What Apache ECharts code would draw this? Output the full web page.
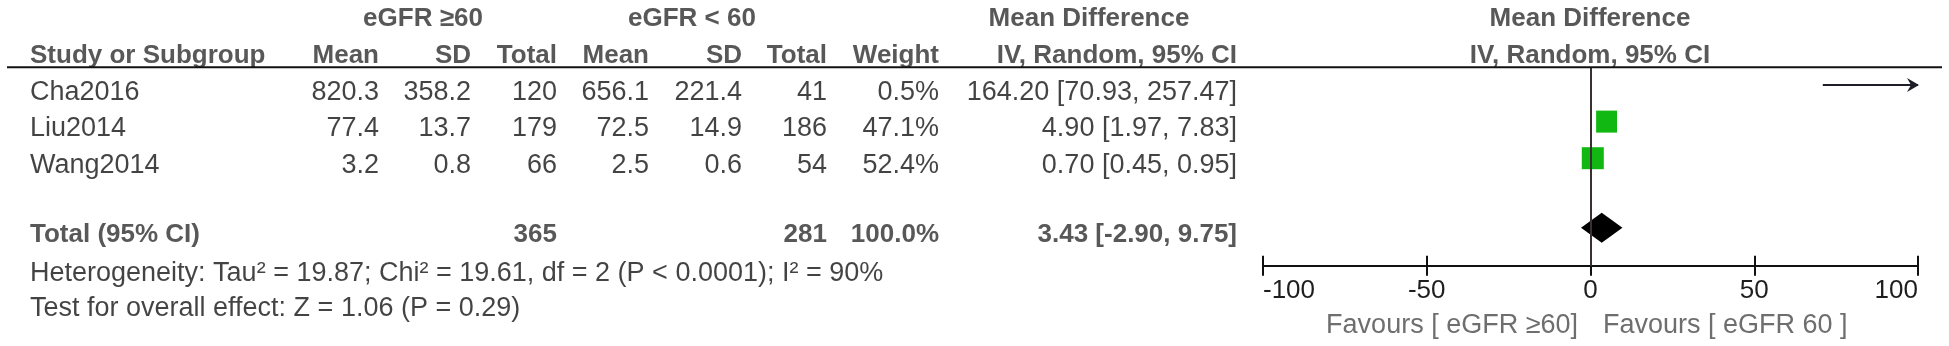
<!DOCTYPE html>
<html>
<head>
<meta charset="utf-8">
<script src="https://cdn.jsdelivr.net/npm/echarts@6/dist/echarts.min.js"></script>
<style>html,body{margin:0;padding:0;background:#fff}#c{width:1949px;height:346px}</style>
</head>
<body>
<div id="c"></div>
<script>
// ---------------- DATA ----------------
const studies = ['Cha2016', 'Liu2014', 'Wang2014'];
const mean1 = [820.3, 77.4, 3.2];
const sd1 = [358.2, 13.7, 0.8];
const n1 = [120, 179, 66];
const mean2 = [656.1, 72.5, 2.5];
const sd2 = [221.4, 14.9, 0.6];
const n2 = [41, 186, 54];
const weight = [0.5, 47.1, 52.4];
const md = [164.20, 4.90, 0.70];
const ciLow = [70.93, 1.97, 0.45];
const ciHigh = [257.47, 7.83, 0.95];
const totalN1 = 365;
const totalN2 = 281;
const totalWeight = 100.0;
const totalMD = 3.43;
const totalLow = -2.90;
const totalHigh = 9.75;
const xTicks = [-100, -50, 0, 50, 100];
const groupHeaders = ['eGFR \u226560', 'eGFR < 60'];
const colHeaders = ['Study or Subgroup', 'Mean', 'SD', 'Total', 'Mean', 'SD', 'Total', 'Weight', 'IV, Random, 95% CI'];
const effectHeader = ['Mean Difference', 'IV, Random, 95% CI'];
const totalLabel = 'Total (95% CI)';
const heterogeneity = 'Heterogeneity: Tau\u00b2 = 19.87; Chi\u00b2 = 19.61, df = 2 (P < 0.0001); I\u00b2 = 90%';
const overallEffect = 'Test for overall effect: Z = 1.06 (P = 0.29)';
const favours = ['Favours [ eGFR \u226560]', 'Favours [ eGFR 60 ]'];

// ---------------- LAYOUT ----------------
const FONT = '"Liberation Sans", Arial, sans-serif';
const REG = 27, BOLD = 26;
const COL = {
  study: 30, mean1: 379, sd1: 471, n1: 557, mean2: 649, sd2: 742, n2: 827,
  weight: 939, md: 1237, grp1: 423, grp2: 692, mdHead: 1089, plotHead: 1590,
  favL: 1578, favR: 1603
};
const ROW = { h1: -2, h2: -1, total: 3.9, het: 4.95, test: 5.9, fav: 6.36 };

const fmt1 = v => v.toFixed(1);
const fmt2 = v => v.toFixed(2);
const ciText = (m, l, h) => fmt2(m) + ' [' + fmt2(l) + ', ' + fmt2(h) + ']';

function textSeries(items, opt) {
  return {
    type: 'scatter', xAxisIndex: 2, yAxisIndex: 1, silent: true, clip: false,
    symbolSize: 0.1, itemStyle: { color: 'transparent' }, z: 10,
    data: items.map(it => ({ name: it[0], value: [it[1], it[2]] })),
    label: {
      show: true, position: 'inside', align: opt.align, verticalAlign: 'middle',
      formatter: p => p.name, fontFamily: FONT, fontSize: opt.size || REG,
      fontWeight: opt.bold ? 'bold' : 'normal', color: opt.color || '#141414',
      textBorderWidth: 0
    }
  };
}

const boldColor = '#2e2e2e';
const series = [];

// header rows
series.push(textSeries([
  [groupHeaders[0], COL.grp1, ROW.h1], [groupHeaders[1], COL.grp2, ROW.h1],
  [effectHeader[0], COL.mdHead, ROW.h1], [effectHeader[0], COL.plotHead, ROW.h1],
  [effectHeader[1], COL.plotHead, ROW.h2]
], { align: 'center', bold: true, size: BOLD, color: boldColor }));
series.push(textSeries([[colHeaders[0], COL.study, ROW.h2]], { align: 'left', bold: true, size: BOLD, color: boldColor }));
const rightCols = [COL.mean1, COL.sd1, COL.n1, COL.mean2, COL.sd2, COL.n2, COL.weight, COL.md];
series.push(textSeries(colHeaders.slice(1).map((h, i) => [h, rightCols[i], ROW.h2]),
  { align: 'right', bold: true, size: BOLD, color: boldColor }));

// study rows
series.push(textSeries(studies.map((s, i) => [s, COL.study, i]), { align: 'left' }));
const cells = [];
studies.forEach((s, i) => {
  cells.push([fmt1(mean1[i]), COL.mean1, i]);
  cells.push([fmt1(sd1[i]), COL.sd1, i]);
  cells.push([String(n1[i]), COL.n1, i]);
  cells.push([fmt1(mean2[i]), COL.mean2, i]);
  cells.push([fmt1(sd2[i]), COL.sd2, i]);
  cells.push([String(n2[i]), COL.n2, i]);
  cells.push([fmt1(weight[i]) + '%', COL.weight, i]);
  cells.push([ciText(md[i], ciLow[i], ciHigh[i]), COL.md, i]);
});
series.push(textSeries(cells, { align: 'right' }));

// total row
series.push(textSeries([[totalLabel, COL.study, ROW.total]], { align: 'left', bold: true, size: BOLD, color: boldColor }));
series.push(textSeries([
  [String(totalN1), COL.n1, ROW.total], [String(totalN2), COL.n2, ROW.total],
  [fmt1(totalWeight) + '%', COL.weight, ROW.total],
  [ciText(totalMD, totalLow, totalHigh), COL.md, ROW.total]
], { align: 'right', bold: true, size: BOLD, color: boldColor }));

// footnotes
series.push(textSeries([[heterogeneity, COL.study, ROW.het], [overallEffect, COL.study, ROW.test]], { align: 'left' }));
series.push(textSeries([[favours[0], COL.favL, ROW.fav]], { align: 'right', color: '#4a4a4a' }));
series.push(textSeries([[favours[1], COL.favR, ROW.fav]], { align: 'left', color: '#4a4a4a' }));

// ---------------- FOREST PLOT ----------------
const XMIN = xTicks[0], XMAX = xTicks[xTicks.length - 1];
series.push({
  type: 'custom', xAxisIndex: 0, yAxisIndex: 0, silent: true, clip: false, z: 2,
  data: studies.map((s, i) => [ciLow[i], ciHigh[i], i]),
  renderItem(params, api) {
    const lo = api.value(0), hi = api.value(1), r = api.value(2);
    const a = api.coord([Math.max(lo, XMIN), r]);
    const b = api.coord([Math.min(hi, XMAX), r]);
    const ch = [{ type: 'line', shape: { x1: a[0], y1: a[1], x2: b[0], y2: b[1] },
      style: { stroke: '#1e1e28', lineWidth: 2 } }];
    if (hi > XMAX) ch.push({ type: 'polygon',
      shape: { points: [[b[0] + 1, b[1]], [b[0] - 11, b[1] - 7], [b[0] - 7, b[1]], [b[0] - 11, b[1] + 7]] },
      style: { fill: '#1e1e28' } });
    if (lo < XMIN) ch.push({ type: 'polygon',
      shape: { points: [[a[0] - 1, a[1]], [a[0] + 11, a[1] - 7], [a[0] + 7, a[1]], [a[0] + 11, a[1] + 7]] },
      style: { fill: '#1e1e28' } });
    return { type: 'group', children: ch };
  }
});
series.push({
  type: 'scatter', xAxisIndex: 0, yAxisIndex: 0, silent: true, clip: true, z: 3,
  symbol: 'rect',
  data: studies.map((s, i) => ({ value: [md[i], i], symbolSize: [3.04 * Math.sqrt(weight[i]), 22] })),
  itemStyle: { color: '#12b812', opacity: 1 }
});
series.push({
  type: 'custom', xAxisIndex: 0, yAxisIndex: 0, silent: true, clip: false, z: 3,
  data: [[totalLow, totalMD, totalHigh, ROW.total]],
  renderItem(params, api) {
    const r = api.value(3);
    const l = api.coord([api.value(0), r]);
    const c = api.coord([api.value(1), r]);
    const h = api.coord([api.value(2), r]);
    const hh = 15;
    return { type: 'polygon', shape: { points: [[l[0], l[1]], [c[0], c[1] - hh], [h[0], h[1]], [c[0], c[1] + hh]] },
      style: { fill: '#000' } };
  }
});
series.push({
  type: 'line', xAxisIndex: 0, yAxisIndex: 0, data: [], silent: true, z: 5,
  markLine: { silent: true, symbol: 'none', label: { show: false },
    lineStyle: { color: '#3a3030', width: 2, type: 'solid' }, data: [{ xAxis: 0 }] }
});

const chart = echarts.init(document.getElementById('c'));
chart.setOption({
  animation: false,
  backgroundColor: '#ffffff',
  grid: [
    { left: 1263, right: 31, top: 67.3, bottom: 80.3 },
    { left: 0, right: 0, top: 0, bottom: 0 }
  ],
  xAxis: [
    { gridIndex: 0, type: 'value', min: XMIN, max: XMAX, interval: xTicks[1] - xTicks[0], position: 'bottom',
      axisLine: { show: true, onZero: false, lineStyle: { color: '#111', width: 2 } },
      axisTick: { show: true, inside: true, length: 10, lineStyle: { color: '#111', width: 2 } },
      axisLabel: { show: true, margin: 12, fontFamily: FONT, fontSize: 26, color: '#1e1e1e',
        alignMinLabel: 'left', alignMaxLabel: 'right' },
      splitLine: { show: false } },
    { gridIndex: 0, type: 'value', min: XMIN, max: XMAX, interval: xTicks[1] - xTicks[0], position: 'bottom', offset: 0,
      axisLine: { show: false, onZero: false },
      axisTick: { show: true, inside: false, length: 10, lineStyle: { color: '#111', width: 2 } },
      axisLabel: { show: false }, splitLine: { show: false } },
    { gridIndex: 1, type: 'value', min: 0, max: 1949, show: false }
  ],
  yAxis: [
    { gridIndex: 0, type: 'value', min: -0.484, max: 4.937, inverse: true, show: false },
    { gridIndex: 1, type: 'value', min: -2.522, max: 6.932, inverse: true, show: false }
  ],
  graphic: [
    { type: 'line', silent: true, z: 20, shape: { x1: 7, y1: 67.3, x2: 1942, y2: 67.3 },
      style: { stroke: '#111', lineWidth: 2 } }
  ],
  series
});
</script>
</body>
</html>
